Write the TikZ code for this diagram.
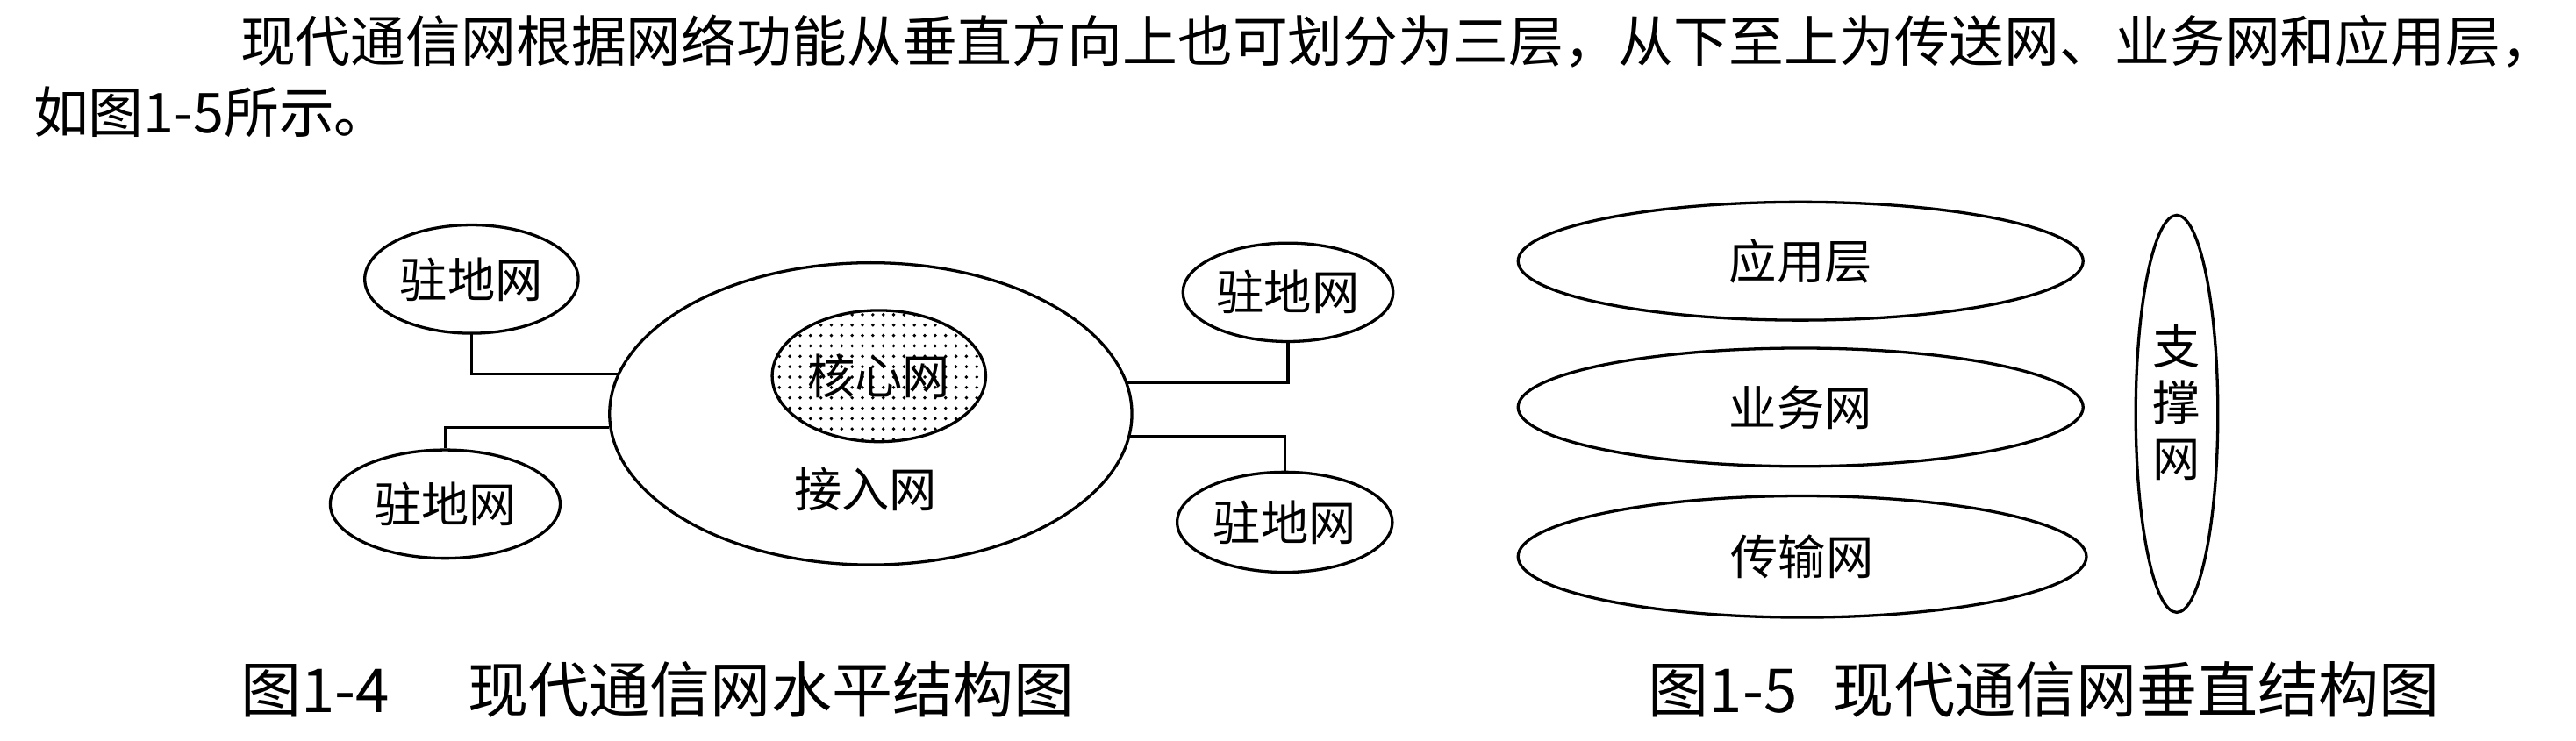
\documentclass[tikz,border=0pt]{standalone}
\usepackage{fontspec}
\setmainfont{Noto Sans CJK SC}
\usetikzlibrary{shapes.geometric,patterns.meta}
\tikzset{
  ring/.style={ellipse, draw, line width=1pt, inner sep=0pt},
  lbl/.style={font=\fontsize{16.5}{19}\selectfont},
  bodytext/.style={font=\fontsize{19.1}{22}\selectfont, inner sep=0pt, anchor=west},
  captext/.style={font=\fontsize{21}{24}\selectfont, inner sep=0pt, anchor=west},
  wire/.style={line width=1pt}
}
\begin{document}
\begin{tikzpicture}[x=0.02cm, y=-0.02cm]
\useasboundingbox (0,0) rectangle (1568,451);
% body text
\node[bodytext] (l1) at (146,25) {现代通信网根据网络功能从垂直方向上也可划分为三层，从下至上为传送网、业务网和应用层，};
\node[bodytext] (l2) at (20,68) {如图1-5所示。};
% horizontal structure
\node[ring, minimum width=6.36cm, minimum height=3.68cm] (acc) at (530,252) {};
\node[ring, lbl, minimum width=2.6cm, minimum height=1.6cm, pattern={Dots[distance=3.6pt, radius=0.6pt]}] (core) at (535,229) {核心网};
\node[lbl, inner sep=0pt] (acclbl) at (527,298) {接入网};
\node[ring, lbl, minimum width=2.6cm, minimum height=1.32cm] (tl) at (287,170) {驻地网};
\node[ring, lbl, minimum width=2.8cm, minimum height=1.32cm] (bl) at (271,307) {驻地网};
\node[ring, lbl, minimum width=2.56cm, minimum height=1.2cm] (tr) at (784,178) {驻地网};
\node[ring, lbl, minimum width=2.62cm, minimum height=1.22cm] (br) at (782,318) {驻地网};
\draw[wire] (tl.south) |- (acc.171);
\draw[wire] (bl.north) |- (acc.183);
\draw[wire] (acc.7) -| (tr.south);
\draw[wire] (acc.355) -| (br.north);
% vertical structure
\node[ring, lbl, minimum width=6.88cm, minimum height=1.44cm] (app) at (1096,159) {应用层};
\node[ring, lbl, minimum width=6.88cm, minimum height=1.44cm] (svc) at (1096,248) {业务网};
\node[ring, lbl, minimum width=6.92cm, minimum height=1.48cm] (trn) at (1097,339) {传输网};
\node[ring, minimum width=1.0cm, minimum height=4.84cm] (sup) at (1325,252) {};
\node[align=center, inner sep=0pt, font=\fontsize{16.5}{19.5}\selectfont] (suplbl) at (1325,245) {支\\撑\\网};
% captions
\node[captext] (cap1) at (146,420) {图1-4\hspace{1.3em}现代通信网水平结构图};
\node[captext] (cap2) at (1003,420) {图1-5\hspace{0.6em}现代通信网垂直结构图};
\end{tikzpicture}
\end{document}
